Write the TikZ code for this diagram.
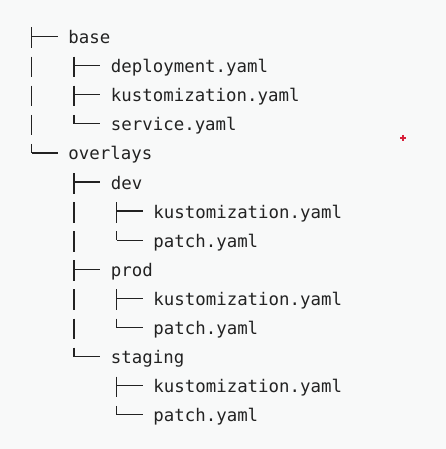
\documentclass[tikz,border=0pt]{standalone}
\usepackage{fontspec}
\usepackage{xcolor}
\newfontfamily\treefont{DejaVu Sans Mono}
\definecolor{ink}{HTML}{222222}
\definecolor{paper}{HTML}{F8F9F9}
\definecolor{cursorred}{HTML}{D8203A}
\tikzset{
  entry/.style={anchor=base west, inner sep=0pt, text=ink,
    font=\treefont\fontsize{17.4}{20}\selectfont},
  branch/.style={ink, line width=1.3pt},
}

\begin{document}
\begin{tikzpicture}[x=1pt, y=1pt]
        \fill[paper] (0,0) rectangle (446,-449);
        \useasboundingbox (0,0) rectangle (446,-449);
        % rows: index / depth / name / length of the vertical stroke
        \foreach \i/\lvl/\txt/\vlen in {%
            0/0/base/20.5, 1/1/deployment.yaml/20.5, 2/1/kustomization.yaml/20.5,
            3/1/service.yaml/9, 4/0/overlays/9, 5/1/dev/20.5,
            6/2/kustomization.yaml/20.5, 7/2/patch.yaml/9, 8/1/prod/20.5,
            9/2/kustomization.yaml/20.5, 10/2/patch.yaml/9, 11/1/staging/9,
            12/2/kustomization.yaml/20.5, 13/2/patch.yaml/9}
        {
            \node[entry] (row\i) at ({68.25+42.5*\lvl},{-43.5-29.1*\i}) {\txt};
            \draw[branch] ([shift={(-36.75,16)}]row\i.base west) -- ++(0,-\vlen)
                ([shift={(-36.75,7)}]row\i.base west) -- ++(26.25,0);
        }
        % continuation bars one level back
        \foreach \i in {1,2,3,6,7,9,10}
            \draw[branch] ([shift={(-79.25,16)}]row\i.base west) -- ++(0,-20.5);
        \draw[cursorred, line width=1.2pt] (400,-138) -- (406,-138)
            (403,-135) -- (403,-141);
    \end{tikzpicture}
\end{document}
